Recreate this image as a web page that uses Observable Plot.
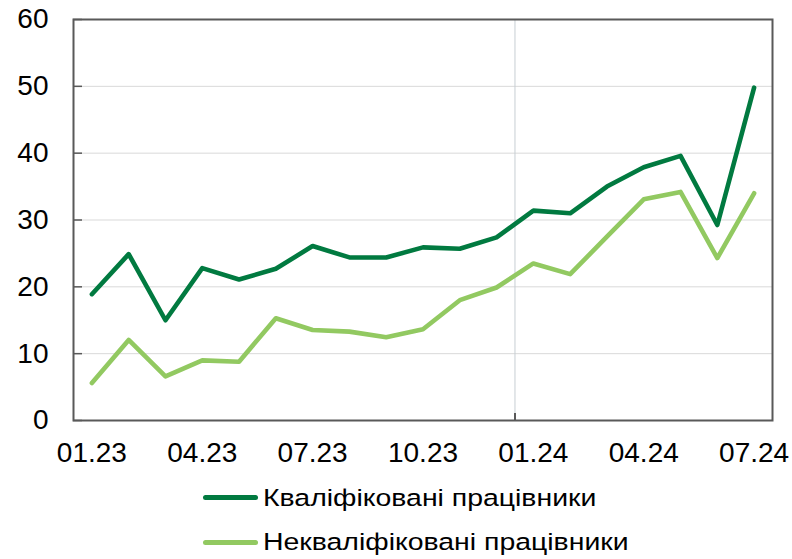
<!DOCTYPE html>
<html>
<head>
<meta charset="utf-8">
<script src="https://cdn.jsdelivr.net/npm/d3@7"></script>
<script src="https://cdn.jsdelivr.net/npm/@observablehq/plot@0.6"></script>
<style>
  html, body { margin: 0; padding: 0; background: #fff; }
  body { width: 792px; height: 559px; overflow: hidden; font-family: "Liberation Sans", Arial, sans-serif; }
  #legend { position: relative; width: 792px; height: 84px; }
  .item { position: absolute; left: 203px; display: flex; align-items: center; height: 40px; }
  .swatch { width: 55px; height: 5px; border-radius: 2.5px; margin-right: 5px; flex: none; }
  .label { font-size: 24.5px; color: #000; white-space: nowrap; display: inline-block;
           transform: scaleX(1.16); transform-origin: left center; }
</style>
</head>
<body>
<div id="chart"></div>
<div id="legend"></div>
<script>
const months = ["01.23","02.23","03.23","04.23","05.23","06.23","07.23","08.23","09.23","10.23","11.23","12.23",
                "01.24","02.24","03.24","04.24","05.24","06.24","07.24"];
const skilled   = [18.9, 24.9, 15.0, 22.8, 21.1, 22.7, 26.1, 24.4, 24.4, 25.9, 25.7, 27.4,
                   31.4, 31.0, 35.0, 37.9, 39.6, 29.25, 49.8];
const unskilled = [5.6, 12.05, 6.6, 9.0, 8.8, 15.3, 13.55, 13.3, 12.45, 13.65, 18.0, 19.9,
                   23.5, 21.9, 27.5, 33.1, 34.2, 24.3, 34.0];
const seriesNames = ["Кваліфіковані працівники", "Некваліфіковані працівники"];
const seriesColors = ["#017a40", "#92c961"];
const xTickLabels = ["01.23","04.23","07.23","10.23","01.24","04.24","07.24"];
const yTicks = [0, 10, 20, 30, 40, 50, 60];
const yearBreak = [11.5]; // between 12.23 and 01.24

const rows = [];
months.forEach((m, i) => {
  rows.push({i, month: m, value: skilled[i], series: seriesNames[0]});
  rows.push({i, month: m, value: unskilled[i], series: seriesNames[1]});
});
const xTickIdx = xTickLabels.map(l => months.indexOf(l));

const W = 792, H = 475, mL = 73, mR = 20, mT = 19, mB = 55;
const plotW = W - mL - mR, plotH = H - mT - mB;
const font = '"Liberation Sans", Arial, sans-serif';

const chart = Plot.plot({
  width: W, height: H,
  marginLeft: mL, marginRight: mR, marginTop: mT, marginBottom: mB,
  style: {fontFamily: font, background: "#fff", color: "#000"},
  x: {type: "linear", domain: [-0.5, months.length - 0.5]},
  y: {domain: [0, 60]},
  color: {domain: seriesNames, range: seriesColors},
  marks: [
    Plot.gridY(yTicks.filter(t => t > 0 && t < 60), {stroke: "#d9d9d9", strokeOpacity: 1, strokeWidth: 1}),
    Plot.ruleX(yearBreak, {stroke: "#c7ced3", strokeWidth: 1}),
    Plot.tickX(yearBreak, {stroke: "#595959", strokeWidth: 2, insetTop: plotH - 7}),
    Plot.tickY(yTicks, {stroke: "#595959", strokeWidth: 1.5, insetRight: plotW - 9}),
    Plot.line(rows, {x: "i", y: "value", stroke: "series", z: "series", strokeWidth: 4.6,
      strokeLinejoin: "round", strokeLinecap: "round"}),
    Plot.frame({stroke: "#595959", strokeWidth: 2}),
    Plot.axisY(yTicks, {tickSize: 0, tickPadding: 25, fontSize: 28, label: null, fill: "#000"}),
    Plot.axisX(xTickIdx, {tickSize: 0, tickPadding: 22, fontSize: 28, label: null, fill: "#000",
      tickFormat: i => months[i]})
  ]
});
document.getElementById("chart").appendChild(chart);

const legend = document.getElementById("legend");
const centers = [22.7, 67];
seriesNames.forEach((name, k) => {
  const it = document.createElement("div");
  it.className = "item";
  it.style.top = (centers[k] - 20) + "px";
  const sw = document.createElement("div");
  sw.className = "swatch";
  sw.style.background = seriesColors[k];
  const lb = document.createElement("span");
  lb.className = "label";
  lb.textContent = name;
  it.appendChild(sw); it.appendChild(lb);
  legend.appendChild(it);
});
</script>
</body>
</html>
